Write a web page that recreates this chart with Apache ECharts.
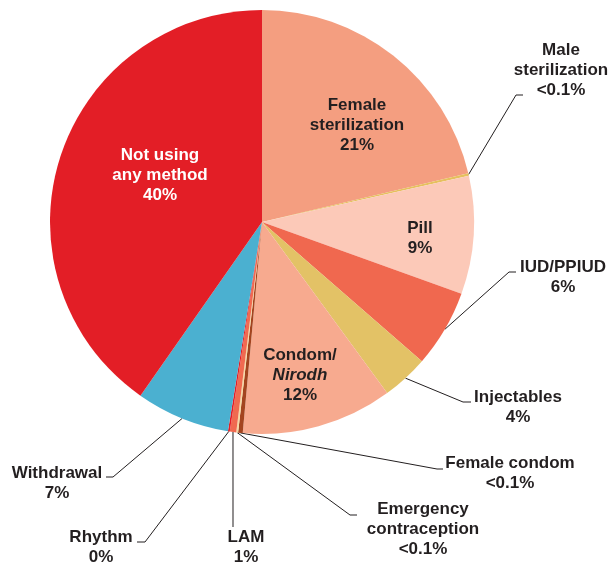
<!DOCTYPE html>
<html>
<head>
<meta charset="utf-8">
<script src="https://cdn.jsdelivr.net/npm/echarts@6/dist/echarts.min.js"></script>
<style>
  html, body { margin: 0; padding: 0; background: #fff; }
  #chart { width: 612px; height: 563px; }
</style>
</head>
<body>
<div id="chart"></div>
<script>
// slices clockwise from 12 o'clock
const methods = ['Female sterilization', 'Male sterilization', 'Pill', 'IUD/PPIUD', 'Injectables', 'Condom/Nirodh',
  'Female condom', 'Emergency contraception', 'LAM', 'Rhythm', 'Withdrawal', 'Not using any method'];
// share of the pie as drawn (slice angles)
const shares = [21.3, 0.2, 9.0, 5.9, 3.55, 11.5, 0.35, 0.14, 0.49, 0.14, 7.15, 40.28];
// printed percentages
const shareLabels = ['21%', '<0.1%', '9%', '6%', '4%', '12%', '<0.1%', '<0.1%', '1%', '0%', '7%', '40%'];
// label text, line by line
const labelText = [
  ['Female', 'sterilization'], ['Male', 'sterilization'], ['Pill'], ['IUD/PPIUD'], ['Injectables'],
  ['Condom/', '{i|Nirodh}'], ['Female condom'], ['Emergency', 'contraception'], ['LAM'], ['Rhythm'],
  ['Withdrawal'], ['Not using', 'any method']
];
const colors = ['#f49e80', '#e6c05e', '#fcc9b8', '#f0684f', '#e3c266', '#f7aa8f',
  '#a3441f', '#f6d9a2', '#f06a50', '#e31e26', '#4bb0d0', '#e31e26'];
const insideIdx = [0, 2, 5, 11];

// label placement: [centre x, centre y, elbow x, elbow y, end x, end y]
const labelPlace = {
  0: [357, 125],
  1: [561, 70, 516, 95, 523, 95],
  2: [420, 238],
  3: [563, 277, 509, 272, 516, 272],
  4: [518, 407, 463, 402, 471, 402],
  5: [300, 375],
  6: [510, 473, 437, 469, 443, 469],
  7: [423, 529, 350, 515, 357, 515],
  8: [246, 547, 233, 527, 233, 527],
  9: [101, 547, 145, 542, 137, 542],
  10: [57, 483, 113, 477, 106, 477],
  11: [160, 175]
};

const chart = echarts.init(document.getElementById('chart'), null, { renderer: 'canvas' });

const pieData = methods.map((name, i) => {
  const inside = insideIdx.includes(i);
  return {
    name,
    value: shares[i],
    itemStyle: { color: colors[i] },
    label: {
      position: inside ? 'inside' : 'outside',
      color: i === 11 ? '#ffffff' : '#231f20',
      formatter: labelText[i].concat(shareLabels[i]).join('\n')
    },
    labelLine: { show: !inside }
  };
});

chart.setOption({
  backgroundColor: '#ffffff',
  animation: false,
  series: [
    {
      type: 'pie',
      center: [262, 222],
      radius: 212,
      startAngle: 90,
      clockwise: true,
      avoidLabelOverlap: false,
      itemStyle: { borderWidth: 0 },
      label: {
        fontFamily: '"Liberation Sans", Arial, sans-serif',
        fontWeight: 'bold',
        fontSize: 17,
        lineHeight: 20,
        align: 'center',
        rich: {
          i: {
            fontFamily: '"Liberation Sans", Arial, sans-serif',
            fontWeight: 'bold',
            fontStyle: 'italic',
            fontSize: 17,
            lineHeight: 20,
            color: '#231f20'
          }
        }
      },
      labelLine: {
        show: true,
        smooth: false,
        lineStyle: { color: '#231f20', width: 1 }
      },
      labelLayout: function (params) {
        const p = labelPlace[params.dataIndex];
        const out = { x: p[0], y: p[1], align: 'center', verticalAlign: 'middle' };
        if (p.length > 2 && params.labelLinePoints) {
          const start = params.labelLinePoints[0];
          out.labelLinePoints = [[start[0], start[1]], [p[2], p[3]], [p[4], p[5]]];
        }
        return out;
      },
      data: pieData
    }
  ]
});
window.addEventListener('resize', chart.resize);
</script>
</body>
</html>
